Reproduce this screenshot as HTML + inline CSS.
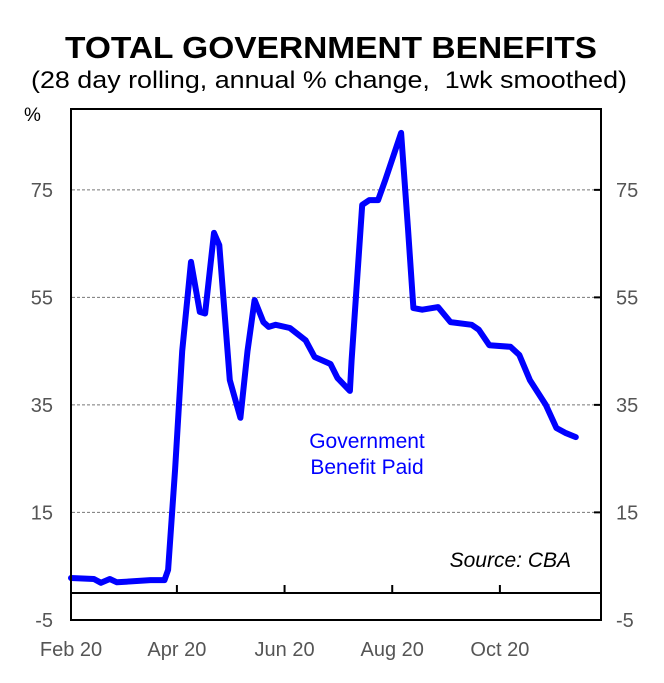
<!DOCTYPE html>
<html><head><meta charset="utf-8"><style>
body{margin:0;background:#fff;}
svg text{font-family:"Liberation Sans",sans-serif;}
</style></head><body>
<svg id="chart" width="664" height="678" xmlns="http://www.w3.org/2000/svg">
<text x="331" y="58" text-anchor="middle" font-size="31" font-weight="bold" textLength="532" lengthAdjust="spacingAndGlyphs">TOTAL GOVERNMENT BENEFITS</text>
<text x="329" y="88" text-anchor="middle" font-size="24" xml:space="preserve" textLength="596" lengthAdjust="spacingAndGlyphs">(28 day rolling, annual % change,  1wk smoothed)</text>
<text x="24" y="121" font-size="19">%</text>
<g id="grid"></g>
<g id="axes"></g>
<path id="series" fill="none" stroke="#0000ff" stroke-width="6" stroke-linejoin="round" stroke-linecap="round"/>
<rect x="71" y="109" width="530" height="511" fill="none" stroke="#000" stroke-width="2"/>
<text x="367" y="448" text-anchor="middle" font-size="21" fill="#0000ff">Government</text>
<text x="367" y="474" text-anchor="middle" font-size="21" fill="#0000ff">Benefit Paid</text>
<text x="571" y="567" text-anchor="end" font-size="21" font-style="italic">Source: CBA</text>
</svg>
<script>
const days=[0,13,17,22,26,45,53,55,59,63,68,73,76,81,84,90,96,100,104,109,112,116,124,133,138,147,151,158,159,165,169,174,178,187,191,194,199,208,215,227,231,237,249,254,260,269,275,280,286];
const values=[2.8,2.6,1.9,2.6,2.0,2.4,2.4,4.3,23,45,61.6,52.3,52,67,64.7,39.6,32.6,45,54.5,50.4,49.5,49.9,49.3,47,43.9,42.6,40,37.6,43.3,72.2,73.1,73.1,76.8,85.6,67.5,53,52.7,53.2,50.4,49.9,49,46.1,45.8,44.3,39.6,35,30.7,29.8,29];
const yTicks=[75,55,35,15,-5];
const xTickDays=[0,60,121,182,243];
const xTickLabels=["Feb 20","Apr 20","Jun 20","Aug 20","Oct 20"];
const NS="http://www.w3.org/2000/svg";
function xs(d){return 71+1.765*d;}
function ys(v){return 593-v*5.375;}
const grid=document.getElementById('grid'),axes=document.getElementById('axes');
function mk(tag,attrs,parent){const e=document.createElementNS(NS,tag);for(const k in attrs)e.setAttribute(k,attrs[k]);parent.appendChild(e);return e;}
yTicks.forEach(v=>{
  const y=ys(v);
  if(v>-5){const l=mk('line',{x1:72,x2:601,y1:y,y2:y,stroke:'#777','stroke-dasharray':'3,2','stroke-width':1},grid);
  
  
  const t=mk('line',{x1:594,x2:601,y1:y,y2:y,stroke:'#000','stroke-width':2},axes);
  
  }
  const a=mk('text',{x:53,y:y+7,'text-anchor':'end','font-size':20,fill:'#555'},axes);a.textContent=v;
  
  
  const b=mk('text',{x:616,y:y+7,'font-size':20,fill:'#555'},axes);b.textContent=v;
  
  
});
const z=mk('line',{x1:72,x2:601,y1:ys(0),y2:ys(0),stroke:'#000','stroke-width':2},axes);


xTickDays.forEach((d,i)=>{
  const x=xs(d);
  if(i>0){const t=mk('line',{x1:x,x2:x,y1:ys(0)-8,y2:ys(0),stroke:'#000','stroke-width':2},axes);
  
  }
  const l=mk('text',{x:x,y:656,'text-anchor':'middle','font-size':20,fill:'#555'},axes);l.textContent=xTickLabels[i];
  
  
});
document.getElementById('series').setAttribute('d',days.map((d,i)=>(i?'L':'M')+xs(d).toFixed(1)+','+ys(values[i]).toFixed(1)).join(''));
</script>
</body></html>
